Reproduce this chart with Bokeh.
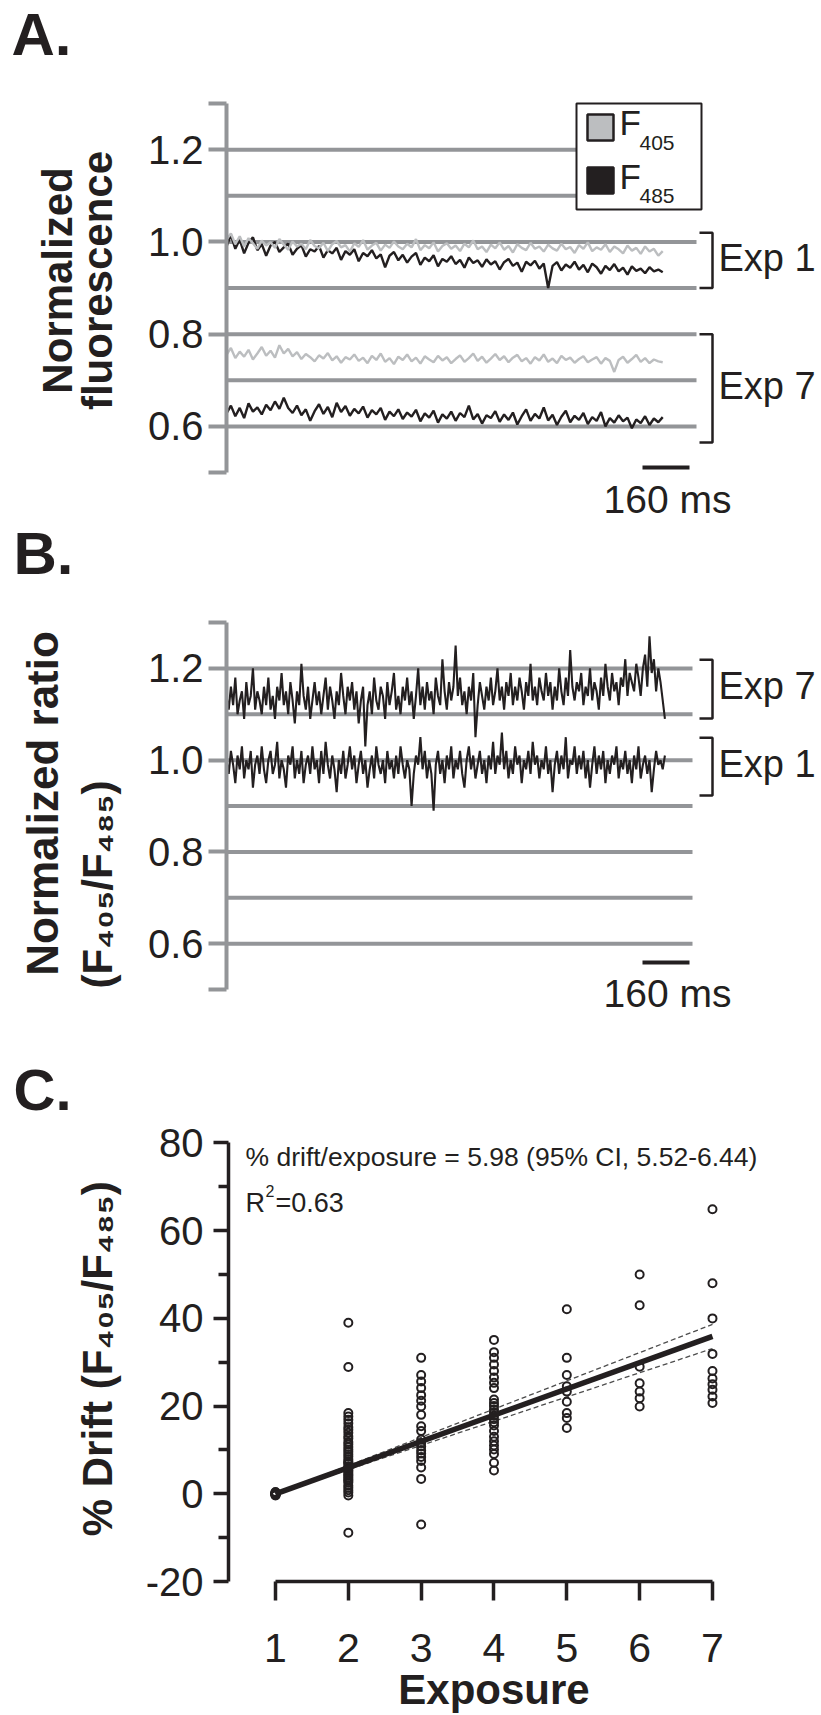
import math
from bokeh.plotting import figure
from bokeh.layouts import column, row
from bokeh.models import Label, FixedTicker
from bokeh.embed import file_html
from bokeh.resources import INLINE

FONT = "Liberation Sans"
INK = "#231f20"
RULE = "#939598"
LIGHT = "#bcbec0"

# ---------------------------------------------------------------- data
A_SAMPLE_MS = 15        # sampling interval of the fluorescence traces
B_SAMPLE_MS = 7.5       # sampling interval of the ratio traces
SCALE_BAR_MS = 160

# Panel A: normalized fluorescence, exposure 1 and exposure 7
a_exp1_f405 = [
    1.005, 1.018, 0.995, 1.012, 0.990, 1.008, 0.997, 0.985, 1.003, 0.992,
    0.999, 0.987, 1.006, 0.994, 0.983, 1.001, 0.990, 0.996, 0.984, 1.004,
    0.991, 0.986, 0.998, 0.980, 0.995, 1.002, 0.988, 0.993, 0.979, 0.997,
    0.989, 1.004, 0.983, 0.992, 0.998, 0.981, 0.994, 0.987, 1.001, 0.990,
    0.984, 0.996, 0.988, 1.006, 0.982, 0.993, 0.986, 0.999, 0.979, 0.991,
    0.997, 0.985, 0.992, 0.980, 0.996, 0.988, 1.003, 0.984, 0.990, 0.978,
    0.994, 0.986, 0.999, 0.983, 0.991, 0.977, 0.995, 0.987, 0.982, 0.998,
    0.985, 0.990, 0.979, 0.994, 0.986, 0.981, 0.996, 0.984, 0.989, 0.976,
    0.993, 0.985, 0.999, 0.980, 0.988, 0.983, 0.995, 0.978, 0.990, 0.984,
    0.975, 0.992, 0.981, 0.987, 0.974, 0.990, 0.979, 0.985, 0.970, 0.980]
a_exp1_f485 = [
    0.990, 1.015, 0.985, 1.005, 0.975, 0.998, 1.010, 0.982, 0.995, 0.970,
    0.992, 1.000, 0.978, 0.988, 0.996, 0.972, 0.985, 0.993, 0.968, 0.984,
    0.979, 0.991, 0.966, 0.982, 0.975, 0.987, 0.961, 0.980, 0.972, 0.984,
    0.958, 0.976, 0.969, 0.982, 0.964, 0.973, 0.945, 0.970, 0.978, 0.960,
    0.972, 0.955, 0.968, 0.976, 0.950, 0.966, 0.958, 0.971, 0.947, 0.963,
    0.957, 0.969, 0.952, 0.961, 0.944, 0.966, 0.954, 0.960, 0.946, 0.962,
    0.951, 0.958, 0.940, 0.956, 0.963, 0.948, 0.955, 0.935, 0.957, 0.949,
    0.959, 0.942, 0.953, 0.900, 0.948, 0.956, 0.938, 0.951, 0.944, 0.957,
    0.940, 0.950, 0.934, 0.953, 0.945, 0.931, 0.948, 0.939, 0.952, 0.936,
    0.944, 0.929, 0.947, 0.937, 0.942, 0.932, 0.945, 0.936, 0.940, 0.934]
a_exp7_f405 = [
    0.755, 0.770, 0.748, 0.762, 0.751, 0.766, 0.745, 0.758, 0.772, 0.753,
    0.764, 0.749, 0.776, 0.758, 0.768, 0.752, 0.761, 0.746, 0.757, 0.750,
    0.741, 0.754, 0.747, 0.759, 0.743, 0.752, 0.738, 0.750, 0.745, 0.756,
    0.742, 0.749, 0.737, 0.753, 0.744, 0.758, 0.740, 0.748, 0.735, 0.751,
    0.744, 0.756, 0.741, 0.749, 0.736, 0.752, 0.745, 0.739, 0.753, 0.743,
    0.750, 0.737, 0.746, 0.754, 0.740, 0.748, 0.758, 0.742, 0.751, 0.738,
    0.747, 0.757, 0.744, 0.752, 0.739, 0.749, 0.755, 0.741, 0.748, 0.736,
    0.750, 0.743, 0.756, 0.740, 0.747, 0.737, 0.753, 0.744, 0.749, 0.738,
    0.746, 0.752, 0.739, 0.745, 0.750, 0.736, 0.748, 0.742, 0.718, 0.744,
    0.751, 0.738, 0.746, 0.755, 0.740, 0.748, 0.737, 0.745, 0.741, 0.739]
a_exp7_f485 = [
    0.628, 0.645, 0.622, 0.640, 0.618, 0.650, 0.632, 0.641, 0.626, 0.647,
    0.635, 0.654, 0.638, 0.662, 0.640, 0.629, 0.645, 0.624, 0.637, 0.612,
    0.633, 0.648, 0.627, 0.642, 0.620, 0.651, 0.631, 0.644, 0.623, 0.638,
    0.628, 0.643, 0.619, 0.635, 0.626, 0.640, 0.614, 0.632, 0.622, 0.637,
    0.616, 0.630, 0.621, 0.636, 0.611, 0.628, 0.619, 0.634, 0.608, 0.626,
    0.617, 0.632, 0.612, 0.629, 0.620, 0.645, 0.615, 0.627, 0.606, 0.624,
    0.618, 0.633, 0.610, 0.626, 0.614, 0.630, 0.604, 0.622, 0.637, 0.612,
    0.627, 0.617, 0.641, 0.613, 0.625, 0.603, 0.621, 0.634, 0.609, 0.623,
    0.614, 0.629, 0.605, 0.620, 0.612, 0.631, 0.600, 0.618, 0.608, 0.624,
    0.611, 0.619, 0.596, 0.615, 0.607, 0.622, 0.603, 0.617, 0.609, 0.620]

# Panel B: normalized F405/F485 ratio
b_exp7_ratio = [
    1.14, 1.11, 1.16, 1.12, 1.18, 1.10, 1.13, 1.15, 1.09, 1.17, 1.12, 1.14, 1.20, 1.11, 1.15, 1.13, 1.10, 1.16, 1.12, 1.18,
    1.11, 1.14, 1.09, 1.16, 1.13, 1.19, 1.12, 1.15, 1.10, 1.17, 1.13, 1.08, 1.15, 1.12, 1.21, 1.14, 1.11, 1.16, 1.09, 1.13,
    1.17, 1.12, 1.15, 1.10, 1.14, 1.18, 1.11, 1.16, 1.13, 1.09, 1.15, 1.12, 1.19, 1.14, 1.10, 1.16, 1.13, 1.17, 1.11, 1.15,
    1.08, 1.13, 1.16, 1.03, 1.12, 1.15, 1.10, 1.18, 1.13, 1.11, 1.16, 1.14, 1.09, 1.17, 1.12, 1.15, 1.19, 1.11, 1.14, 1.10,
    1.16, 1.13, 1.18, 1.12, 1.15, 1.09, 1.14, 1.20, 1.12, 1.16, 1.11, 1.17, 1.13, 1.15, 1.10, 1.18, 1.14, 1.12, 1.22, 1.15,
    1.11, 1.17, 1.13, 1.16, 1.25, 1.14, 1.18, 1.12, 1.15, 1.10, 1.16, 1.13, 1.19, 1.05, 1.12, 1.17, 1.14, 1.11, 1.16, 1.13,
    1.18, 1.12, 1.15, 1.20, 1.13, 1.16, 1.11, 1.17, 1.14, 1.19, 1.12, 1.16, 1.13, 1.18, 1.15, 1.11, 1.17, 1.14, 1.21, 1.13,
    1.16, 1.12, 1.18, 1.15, 1.13, 1.19, 1.14, 1.17, 1.11, 1.16, 1.13, 1.20, 1.15, 1.12, 1.18, 1.14, 1.24, 1.16, 1.13, 1.17,
    1.15, 1.19, 1.12, 1.16, 1.14, 1.20, 1.13, 1.17, 1.15, 1.11, 1.18, 1.14, 1.21, 1.16, 1.13, 1.19, 1.15, 1.17, 1.12, 1.18,
    1.16, 1.22, 1.14, 1.19, 1.17, 1.15, 1.21, 1.18, 1.14, 1.20, 1.23, 1.16, 1.27, 1.19, 1.22, 1.15, 1.20, 1.17, 1.13, 1.09]
b_exp1_ratio = [
    1.00, 0.97, 1.02, 0.99, 0.95, 1.01, 0.98, 1.03, 0.96, 1.00, 0.98, 1.02, 0.94, 0.99, 1.01, 0.97, 1.03, 0.98, 0.95, 1.00,
    1.02, 0.97, 0.99, 1.04, 0.96, 1.00, 0.98, 0.94, 1.01, 0.99, 1.03, 0.96, 1.00, 0.97, 1.02, 0.95, 0.99, 1.01, 0.97, 1.03,
    0.98, 1.00, 0.95, 1.02, 0.97, 1.04, 0.99, 0.96, 1.01, 0.98, 0.93, 1.00, 0.97, 1.02, 0.96, 0.99, 1.03, 0.98, 1.01, 0.95,
    0.99, 1.02, 0.97, 1.00, 0.94, 0.98, 1.01, 0.96, 1.03, 0.99, 0.97, 1.00, 0.95, 1.02, 0.98, 1.00, 0.96, 1.01, 0.97, 1.03,
    0.99, 0.96, 1.00, 0.98, 0.90, 0.97, 1.01, 0.99, 1.05, 0.98, 1.02, 0.96, 1.00, 0.97, 0.89, 0.99, 1.02, 0.97, 1.00, 0.95,
    1.01, 0.98, 1.03, 0.96, 1.00, 0.98, 1.02, 0.97, 0.94, 1.00, 1.03, 0.98, 1.01, 0.96, 0.99, 1.02, 0.97, 1.00, 0.95, 1.01,
    0.98, 1.04, 0.97, 1.01, 0.99, 1.06, 0.98, 1.02, 0.96, 1.00, 0.97, 1.03, 0.99, 1.01, 0.95, 1.00, 0.98, 1.02, 0.97, 1.04,
    0.99, 1.01, 0.96, 1.00, 0.98, 1.03, 0.97, 1.00, 0.93, 0.99, 1.02, 0.97, 1.01, 0.98, 1.05, 0.96, 1.00, 0.99, 1.03, 0.97,
    1.01, 0.98, 1.02, 0.96, 1.00, 0.94, 0.99, 1.03, 0.97, 1.01, 0.98, 1.02, 0.95, 1.00, 0.97, 1.01, 0.99, 1.03, 0.96, 1.00,
    0.98, 1.02, 0.97, 1.00, 0.95, 1.01, 0.98, 1.03, 0.96, 0.99, 1.01, 0.97, 1.00, 0.93, 0.98, 1.02, 0.99, 1.00, 0.98, 1.01]

ratio_levels = [1.2, 1.1, 1.0, 0.9, 0.8, 0.7, 0.6]
a_exp1_span = (1.02, 0.90)
a_exp7_span = (0.80, 0.565)
b_exp7_span = (1.219, 1.091)
b_exp1_span = (1.049, 0.923)

# Panel C: % drift of the ratio at each exposure
drift_exp1 = [0.0, 0.0, 0.3, -0.3, 0.0, 0.2, -0.2, 0.0, 0.4, -0.1, 0.1, -0.4]
drift_exp2 = [39.0, 28.9, 18.4, 17.6, 16.9, 16.1, 15.2, 14.6, 13.9, 13.1,
              12.6, 11.8, 11.3, 10.7, 10.1, 9.6, 9.0, 8.5, 7.9, 7.4,
              6.9, 6.3, 5.9, 5.2, 4.8, 4.1, 3.7, 3.0, 2.6, 1.9,
              1.4, 0.8, 0.3, -0.4, 7.1, 6.0, 5.5, 4.4, 3.3, -8.9]
drift_exp3 = [31.0, 27.1, 25.6, 24.1, 22.5, 21.2, 19.9, 18.0, 15.4, 14.3,
              12.4, 11.6, 10.8, 9.9, 9.2, 8.4, 7.5, 6.0, 3.4, -7.0]
drift_exp4 = [35.1, 32.3, 31.0, 29.5, 28.0, 26.5, 25.3, 24.1, 21.5, 20.7,
              20.0, 19.2, 18.5, 17.8, 17.0, 16.3, 15.6, 14.3, 13.0, 12.0,
              11.0, 10.1, 9.1, 7.1, 5.3]
drift_exp5 = [42.1, 31.0, 27.1, 24.5, 23.3, 21.0, 18.4, 17.3, 15.0]
drift_exp6 = [50.0, 43.0, 29.0, 25.2, 23.3, 21.8, 19.9]
drift_exp7 = [64.9, 48.0, 40.0, 31.9, 28.0, 26.3, 25.0, 23.7, 22.2, 20.7]

exposures = [1, 2, 3, 4, 5, 6, 7]
fit_slope = 5.98
fit_ci = (5.52, 6.44)
fit_r2 = 0.63

MID = 0.36    # baseline-to-cap-middle, in em
LEFT_W = 130  # width of the strip that holds panel letters and axis titles
PAREN_SHIFT = 74  # vertical titles with parentheses are laid out this much higher


def bare_fig(width, height, xr, yr, left=0, right=0, bottom=0, x_axis=None, y_axis=None):
    p = figure(width=width, height=height, x_range=xr, y_range=yr,
               min_border_left=left, min_border_right=right, min_border_top=0,
               min_border_bottom=bottom, output_backend="svg",
               toolbar_location=None, x_axis_location=x_axis, y_axis_location=y_axis)
    p.xgrid.visible = False
    p.ygrid.visible = False
    p.outline_line_color = None
    p.background_fill_color = "white"
    p.border_fill_color = "white"
    return p


def add_label(p, x, y, text, size, bold=False, align="left", angle=0.0, color=INK):
    """Text whose cap middle sits at (x, y)."""
    p.add_layout(Label(x=x, y=y, text=text, text_font=FONT,
                       text_font_size=f"{size}px",
                       text_font_style="bold" if bold else "normal",
                       text_align=align, text_baseline="middle",
                       angle=angle, text_color=color))


def title_strip(height):
    """Left strip in pixel coordinates (y measured from the top)."""
    p = bare_fig(LEFT_W, height, (0, LEFT_W), (0, height))
    return p, (lambda px: px), (lambda py: height - py)


def vertical_title(p, mx, my, base_px, center_px, text, size):
    add_label(p, mx(base_px - MID * size), my(center_px), text, size, bold=True,
              align="center", angle=math.pi / 2)


def style_ratio_axis(p):
    ax = p.yaxis[0]
    ax.ticker = FixedTicker(ticks=[0.5, 0.6, 0.8, 1.0, 1.2, 1.3])
    ax.bounds = (0.5, 1.3)
    ax.axis_line_color = RULE
    ax.axis_line_width = 4
    ax.major_tick_line_color = RULE
    ax.major_tick_line_width = 4
    ax.major_tick_out = 18
    ax.major_tick_in = 0
    ax.minor_tick_line_color = None
    ax.major_label_overrides = {0.5: "", 0.6: "0.6", 0.8: "0.8", 1.0: "1.0",
                                1.2: "1.2", 1.3: ""}
    ax.major_label_text_font = FONT
    ax.major_label_text_font_size = "40px"
    ax.major_label_text_color = INK
    ax.major_label_standoff = 5


def bracket(p, span, x_in, x_out):
    top, bot = span
    p.multi_line(xs=[[x_in, x_out, x_out, x_in]], ys=[[top, top, bot, bot]],
                 line_color=INK, line_width=2.5)


KX = 0.29375  # px per ms
tA = [i * A_SAMPLE_MS for i in range(len(a_exp1_f405))]
tB = [i * B_SAMPLE_MS for i in range(len(b_exp1_ratio))]

# ================================================================ Panel A
A_H, A_LEFT, A_KY = 520, 226, 461.25
A_YTOP = 1.3 + 103 / A_KY
A_YBOT = A_YTOP - A_H / A_KY
axA = lambda px: (px - A_LEFT) / KX
ayA = lambda py: A_YTOP - py / A_KY

pA = bare_fig(821 - LEFT_W, A_H, (0, (821 - A_LEFT) / KX), (A_YBOT, A_YTOP),
              left=A_LEFT - LEFT_W, y_axis="left")
style_ratio_axis(pA)

ends = [axA(576) if v > 1.05 else axA(696) for v in ratio_levels]
pA.segment(x0=[0] * len(ratio_levels), y0=ratio_levels, x1=ends, y1=ratio_levels,
           line_color=RULE, line_width=4)

pA.line(tA, a_exp1_f485, line_color=INK, line_width=2.4)
pA.line(tA, a_exp1_f405, line_color=LIGHT, line_width=2.4)
pA.line(tA, a_exp7_f405, line_color=LIGHT, line_width=2.4)
pA.line(tA, a_exp7_f485, line_color=INK, line_width=2.4)

# legend box
pA.quad(left=axA(576), right=axA(701), top=ayA(103), bottom=ayA(209),
        fill_color="white", line_color=INK, line_width=2)
pA.quad(left=axA(587), right=axA(613), top=ayA(114), bottom=ayA(140),
        fill_color=LIGHT, line_color=INK, line_width=2.5)
pA.quad(left=axA(587), right=axA(613), top=ayA(167), bottom=ayA(193),
        fill_color=INK, line_color=INK, line_width=2.5)
add_label(pA, axA(619), ayA(135 - MID * 35), "F", 35)
add_label(pA, axA(639), ayA(150 - MID * 21), "405", 21)
add_label(pA, axA(619), ayA(189 - MID * 35), "F", 35)
add_label(pA, axA(639), ayA(203 - MID * 21), "485", 21)

bracket(pA, a_exp1_span, axA(699), axA(712))
bracket(pA, a_exp7_span, axA(699), axA(712))
add_label(pA, axA(718), ayA(257), "Exp 1", 38)
add_label(pA, axA(718), ayA(385), "Exp 7", 38)

barA = axA(642)
pA.segment(x0=[barA], y0=[ayA(467)], x1=[barA + SCALE_BAR_MS], y1=[ayA(467)],
           line_color=INK, line_width=4)
add_label(pA, axA(667), ayA(513 - MID * 39), f"{SCALE_BAR_MS} ms", 39, align="center")

lA, lxA, lyA = title_strip(A_H)
add_label(lA, lxA(11), lyA(56 - MID * 60), "A.", 60, bold=True)
vertical_title(lA, lxA, lyA, 72, 280, "Normalized", 42)
vertical_title(lA, lxA, lyA, 112, 280, "fluorescence", 42)

# ================================================================ Panel B
B_H, B_LEFT, B_KY = 520, 226, 458.75
B_YTOP = 1.3 + 102 / B_KY
B_YBOT = B_YTOP - B_H / B_KY
axB = lambda px: (px - B_LEFT) / KX
ayB = lambda py: B_YTOP - py / B_KY

pB = bare_fig(821 - LEFT_W, B_H, (0, (821 - B_LEFT) / KX), (B_YBOT, B_YTOP),
              left=B_LEFT - LEFT_W, y_axis="left")
style_ratio_axis(pB)
pB.segment(x0=[0] * len(ratio_levels), y0=ratio_levels,
           x1=[axB(692)] * len(ratio_levels), y1=ratio_levels,
           line_color=RULE, line_width=4)

pB.line(tB, b_exp1_ratio, line_color=INK, line_width=2.1)
pB.line(tB, b_exp7_ratio, line_color=INK, line_width=2.1)

bracket(pB, b_exp7_span, axB(699), axB(712))
bracket(pB, b_exp1_span, axB(699), axB(712))
add_label(pB, axB(718), ayB(165), "Exp 7", 38)
add_label(pB, axB(718), ayB(243), "Exp 1", 38)

barB = axB(642)
pB.segment(x0=[barB], y0=[ayB(442)], x1=[barB + SCALE_BAR_MS], y1=[ayB(442)],
           line_color=INK, line_width=4)
add_label(pB, axB(667), ayB(487 - MID * 39), f"{SCALE_BAR_MS} ms", 39, align="center")

lB, lxB, lyB = title_strip(B_H)
add_label(lB, lxB(13), lyB(55 - MID * 60), "B.", 60, bold=True)
vertical_title(lB, lxB, lyB, 58, 283, "Normalized ratio", 44)
vertical_title(lB, lxB, lyB, 112, 290 + PAREN_SHIFT,
               "(F\u2084\u2080\u2085/F\u2084\u2088\u2085)", 42)

# ================================================================ Panel C
C_H, C_LEFT, C_RIGHT, C_BOTTOM = 675, 228, 759, 126
C_KX, C_KY = 72.83, 4.45
C_X0 = 1 - (275 - C_LEFT) / C_KX
C_YBOT = -20
C_YTOP = C_YBOT + (C_H - C_BOTTOM) / C_KY
cx = lambda px: C_X0 + (px - C_LEFT) / C_KX
cy = lambda py: C_YTOP - py / C_KY

pC = bare_fig(821 - LEFT_W, C_H, (C_X0, cx(C_RIGHT)), (C_YBOT, C_YTOP),
              left=C_LEFT - LEFT_W, right=821 - C_RIGHT, bottom=C_BOTTOM,
              x_axis="below", y_axis="left")

xax = pC.xaxis[0]
xax.ticker = FixedTicker(ticks=exposures)
xax.bounds = (exposures[0], exposures[-1])
xax.axis_line_color = INK
xax.axis_line_width = 3.5
xax.major_tick_line_color = INK
xax.major_tick_line_width = 3.5
xax.major_tick_out = 19
xax.major_tick_in = 0
xax.minor_tick_line_color = None
xax.major_label_text_font = FONT
xax.major_label_text_font_size = "41px"
xax.major_label_text_color = INK
xax.major_label_standoff = 33
xax.axis_label = "Exposure"
xax.axis_label_text_font = FONT
xax.axis_label_text_font_style = "bold"
xax.axis_label_text_font_size = "42px"
xax.axis_label_text_color = INK
xax.axis_label_standoff = 1

yax = pC.yaxis[0]
yax.ticker = FixedTicker(ticks=[-20, 0, 20, 40, 60, 80],
                         minor_ticks=[-10, 10, 30, 50, 70])
yax.bounds = (-20, 80)
yax.axis_line_color = INK
yax.axis_line_width = 3.5
yax.major_tick_line_color = INK
yax.major_tick_line_width = 3.5
yax.major_tick_out = 15
yax.major_tick_in = 0
yax.minor_tick_line_color = INK
yax.minor_tick_line_width = 3.5
yax.minor_tick_out = 10
yax.minor_tick_in = 0
yax.major_label_overrides = {-20: "-20", 0: "0", 20: "20", 40: "40", 60: "60", 80: "80"}
yax.major_label_text_font = FONT
yax.major_label_text_font_size = "40px"
yax.major_label_text_color = INK
yax.major_label_standoff = 10

groups = [drift_exp1, drift_exp2, drift_exp3, drift_exp4, drift_exp5,
          drift_exp6, drift_exp7]
pts_x, pts_y = [], []
for e, vals in zip(exposures, groups):
    pts_x += [e] * len(vals)
    pts_y += vals

fx = [exposures[0], exposures[-1]]
pC.line(fx, [fit_ci[1] * (x - 1) for x in fx], line_color="#4d4d4d",
        line_width=1.3, line_dash="5 3")
pC.line(fx, [fit_ci[0] * (x - 1) for x in fx], line_color="#4d4d4d",
        line_width=1.3, line_dash="5 3")
pC.scatter(pts_x, pts_y, marker="circle", size=8, fill_color=None,
           line_color=INK, line_width=2)
pC.line(fx, [fit_slope * (x - 1) for x in fx], line_color=INK, line_width=5.5)

add_label(pC, cx(245), cy(128 - MID * 26.5),
          f"% drift/exposure = {fit_slope:.2f} (95% CI, {fit_ci[0]:.2f}-{fit_ci[1]:.2f})",
          26.5)
add_label(pC, cx(245), cy(175 - MID * 27), "R", 27)
add_label(pC, cx(265), cy(158 - MID * 16), "2", 16)
add_label(pC, cx(275), cy(175 - MID * 27), f"={fit_r2:.2f}", 27)

lC, lxC, lyC = title_strip(C_H)
add_label(lC, lxC(13), lyC(82 - MID * 58), "C.", 58, bold=True)
vertical_title(lC, lxC, lyC, 112, 323 + PAREN_SHIFT,
               "% Drift (F\u2084\u2080\u2085/F\u2084\u2088\u2085)", 42)

layout = column(row(lA, pA, spacing=0), row(lB, pB, spacing=0),
                row(lC, pC, spacing=0), spacing=0)
open("out.html", "w").write(file_html(layout, INLINE))
